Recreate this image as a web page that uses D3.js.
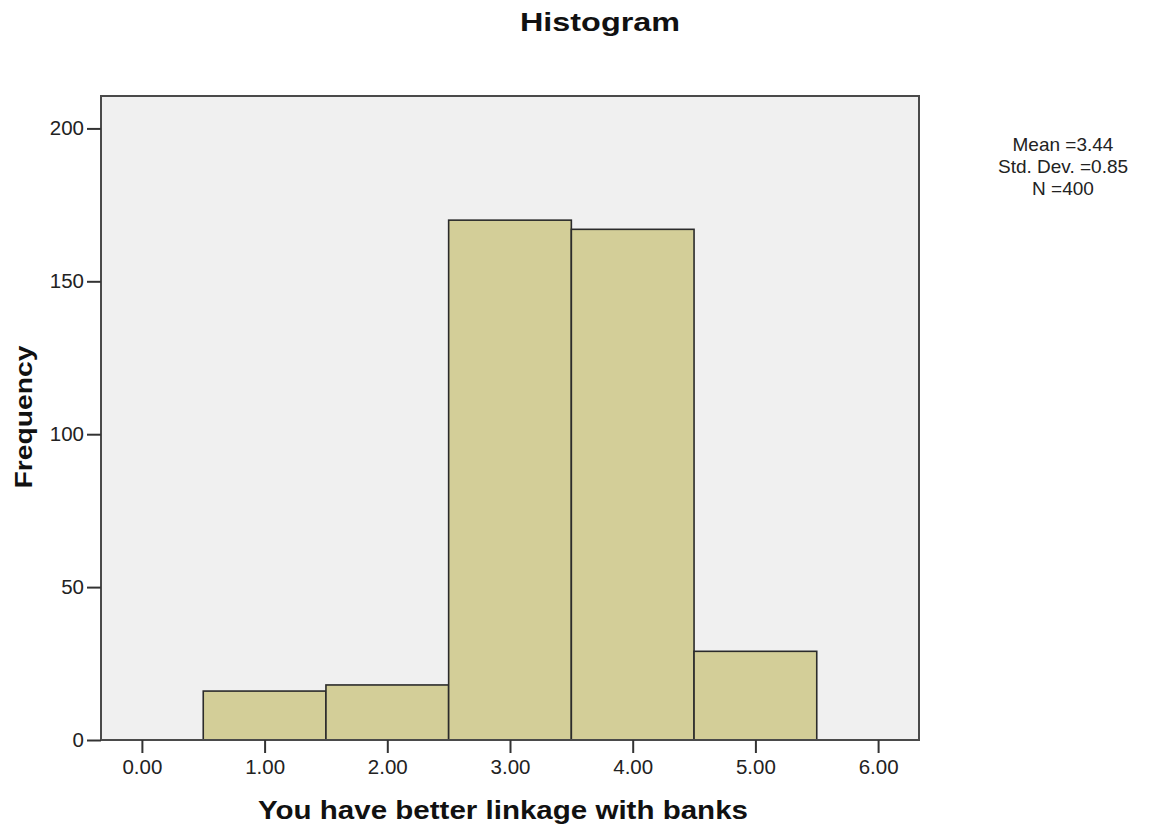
<!DOCTYPE html>
<html>
<head>
<meta charset="utf-8">
<script src="https://cdn.jsdelivr.net/npm/d3@7"></script>
<style>
  html, body { margin: 0; padding: 0; background: #ffffff; }
  svg { display: block; font-family: "Liberation Sans", Arial, sans-serif; }
</style>
</head>
<body>
<svg id="chart" width="1150" height="829"></svg>
<script>
// Histogram bins (lower edge, upper edge) and frequencies
const binStarts = [0.5, 1.5, 2.5, 3.5, 4.5];
const binEnds   = [1.5, 2.5, 3.5, 4.5, 5.5];
const counts    = [16, 18, 170, 167, 29];

// Axis ticks
const xTicks = [0, 1, 2, 3, 4, 5, 6];
const yTicks = [0, 50, 100, 150, 200];

// Summary statistics
const statLines = ["Mean =3.44", "Std. Dev. =0.85", "N =400"];

const titleText = "Histogram";
const xLabel = "You have better linkage with banks";
const yLabel = "Frequency";

const svg = d3.select("#chart");
const frame = { left: 101, right: 919, top: 96, bottom: 740 };

const x = d3.scaleLinear().domain([-1 / 3, 19 / 3]).range([frame.left, frame.right]);
const y = d3.scaleLinear().domain([0, 210.6]).range([frame.bottom, frame.top]);

// plot background
svg.append("rect")
  .attr("x", frame.left).attr("y", frame.top)
  .attr("width", frame.right - frame.left)
  .attr("height", frame.bottom - frame.top)
  .attr("fill", "#f0f0f0");

// bars
const bins = counts.map((c, i) => ({ x0: binStarts[i], x1: binEnds[i], n: c }));
svg.append("g").selectAll("rect").data(bins).join("rect")
  .attr("x", d => x(d.x0))
  .attr("y", d => y(d.n))
  .attr("width", d => x(d.x1) - x(d.x0))
  .attr("height", d => y(0) - y(d.n))
  .attr("fill", "#d3ce98")
  .attr("stroke", "#2b2b2b")
  .attr("stroke-width", 1.6);

// frame
svg.append("rect")
  .attr("x", frame.left).attr("y", frame.top)
  .attr("width", frame.right - frame.left)
  .attr("height", frame.bottom - frame.top)
  .attr("fill", "none")
  .attr("stroke", "#4a4a4a")
  .attr("stroke-width", 2);

// y axis
const yAxis = svg.append("g")
  .attr("transform", `translate(${frame.left},0)`)
  .call(d3.axisLeft(y).tickValues(yTicks).tickSize(14).tickPadding(3).tickFormat(d3.format("d")));
yAxis.select(".domain").remove();
yAxis.selectAll(".tick line").attr("stroke", "#333").attr("stroke-width", 2);
yAxis.selectAll(".tick text")
  .attr("font-family", "'Liberation Sans', Arial, sans-serif")
  .attr("font-size", 20.5).attr("fill", "#222");

// x axis
const xAxis = svg.append("g")
  .attr("transform", `translate(0,${frame.bottom})`)
  .call(d3.axisBottom(x).tickValues(xTicks).tickSize(13).tickPadding(6).tickFormat(d3.format(".2f")));
xAxis.select(".domain").remove();
xAxis.selectAll(".tick line").attr("stroke", "#333").attr("stroke-width", 2);
xAxis.selectAll(".tick text")
  .attr("font-family", "'Liberation Sans', Arial, sans-serif")
  .attr("font-size", 20.5).attr("fill", "#222");

// bold labels drawn with a fixed rendered length
function boldLabel(g, text, size, len) {
  return g.append("text")
    .attr("text-anchor", "middle")
    .attr("font-weight", "bold")
    .attr("font-size", size)
    .attr("fill", "#111")
    .attr("textLength", len)
    .attr("lengthAdjust", "spacingAndGlyphs")
    .text(text);
}

boldLabel(svg, titleText, 25, 160).attr("x", 600).attr("y", 31);
boldLabel(svg, xLabel, 25, 490).attr("x", 503).attr("y", 819);
boldLabel(svg, yLabel, 24, 143).attr("transform", "translate(32,417) rotate(-90)");

// summary statistics
svg.append("g").selectAll("text").data(statLines).join("text")
  .attr("x", 1063)
  .attr("y", (d, i) => 151 + i * 22)
  .attr("text-anchor", "middle")
  .attr("font-size", 19)
  .attr("fill", "#222")
  .text(d => d);
</script>
</body>
</html>
